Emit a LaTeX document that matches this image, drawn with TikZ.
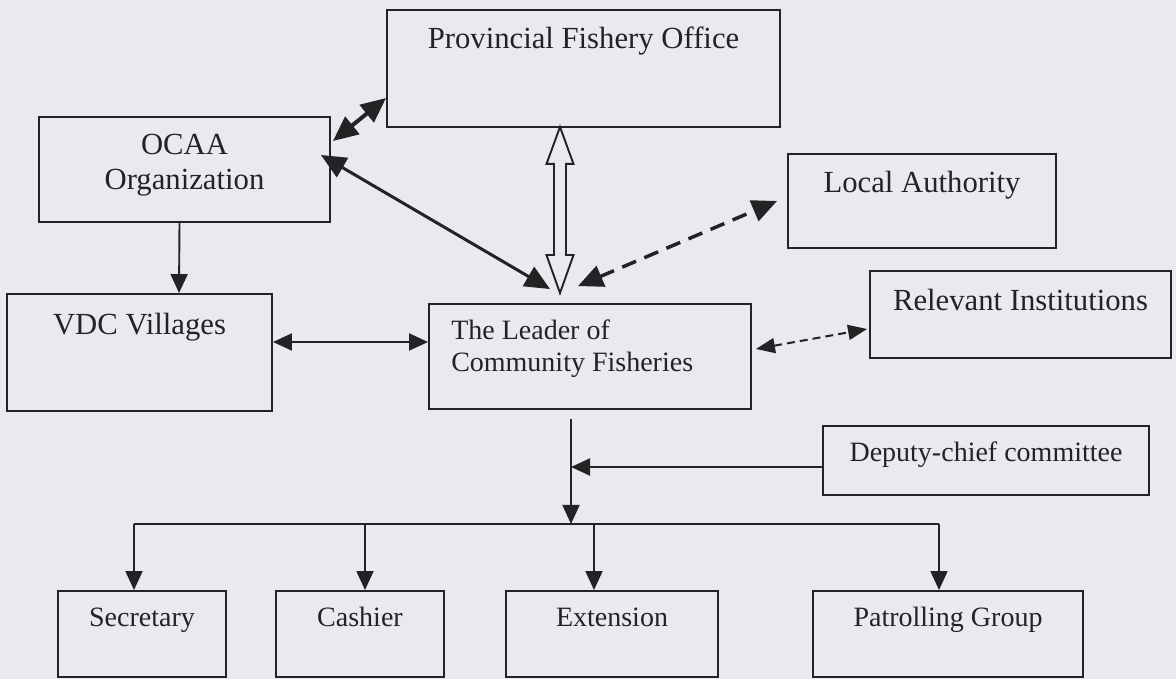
\documentclass[tikz,border=0pt]{standalone}
\usepackage{fontspec}
\setmainfont{Liberation Serif}
\usetikzlibrary{arrows.meta,calc}
\definecolor{bg}{RGB}{233,234,238}
\definecolor{ink}{RGB}{35,35,38}
\begin{document}
\begin{tikzpicture}[x=1pt,y=-1pt,
  box/.style={draw=ink, line width=1.9pt, inner sep=0pt},
  lbl/.style={text=ink, font=\fontsize{30.7}{34}\selectfont, anchor=base, inner sep=0pt},
  lbs/.style={lbl, font=\fontsize{28}{32}\selectfont},
  con/.style={draw=ink, line width=1.9pt},
  tip/.style={-{Triangle[length=19pt,width=17pt]}},
  tips/.style={{Triangle[length=19pt,width=17pt]}-{Triangle[length=19pt,width=17pt]}},
  bigtips/.style={{Triangle[length=25pt,width=22pt]}-{Triangle[length=25pt,width=22pt]}},
  smalltips/.style={{Triangle[length=19pt,width=15pt]}-{Triangle[length=19pt,width=15pt]}}
]
\fill[bg] (0,0) rectangle (1176,679);
\useasboundingbox (0,0) rectangle (1176,679);

% boxes
\node[box, minimum width=393pt, minimum height=117pt] (prov)   at (583.5,68.5) {};
\node[box, minimum width=291pt, minimum height=105pt] (ocaa)   at (184.5,169.5) {};
\node[box, minimum width=268pt, minimum height=94pt]  (local)  at (922,201) {};
\node[box, minimum width=301pt, minimum height=87pt]  (relev)  at (1020.5,314.5) {};
\node[box, minimum width=322pt, minimum height=105pt] (leader) at (590,356.5) {};
\node[box, minimum width=265pt, minimum height=117pt] (vdc)    at (139.5,352.5) {};
\node[box, minimum width=326pt, minimum height=69pt]  (deputy) at (986,460.5) {};
\node[box, minimum width=168pt, minimum height=86pt]  (secr)   at (142,634) {};
\node[box, minimum width=168pt, minimum height=86pt]  (cash)   at (360,634) {};
\node[box, minimum width=212pt, minimum height=86pt]  (ext)    at (612,634) {};
\node[box, minimum width=270pt, minimum height=86pt]  (patrol) at (948,634) {};

% labels
\node[lbl] at ([yshift=-39pt]prov.north) {Provincial Fishery Office};
\node[lbl] at ([yshift=-38pt]ocaa.north) {OCAA};
\node[lbl] at ([yshift=-73pt]ocaa.north) {Organization};
\node[lbl] at ([yshift=-39pt]local.north) {Local Authority};
\node[lbl] at ([yshift=-40pt]relev.north) {Relevant Institutions};
\node[lbl] at ([yshift=-41pt]vdc.north) {VDC Villages};
\node[lbs, anchor=base west] at ([xshift=23pt,yshift=-36pt]leader.north west) {The Leader of};
\node[lbs, anchor=base west] at ([xshift=23pt,yshift=-68pt]leader.north west) {Community Fisheries};
\node[lbs] at ([yshift=-36pt]deputy.north) {Deputy-chief committee};
\node[lbs] at ([yshift=-36pt]secr.north) {Secretary};
\node[lbs] at ([yshift=-36pt]cash.north) {Cashier};
\node[lbs] at ([yshift=-36pt]ext.north) {Extension};
\node[lbs] at ([yshift=-36pt]patrol.north) {Patrolling Group};

% OCAA <-> Provincial
\draw[con, line width=4pt, bigtips] ($(ocaa.north east)+(2,25)$) -- ($(prov.west)+(0,29.5)$);
% OCAA <-> Leader
\draw[con, line width=3pt, bigtips] ($(ocaa.east)+(-10,-14.5)$) -- ($(leader.north)+(-40,-14)$);
% Provincial <=> Leader (hollow double arrow)
\coordinate (ht) at ($(prov.south)+(-23.5,-1)$);
\coordinate (hb) at ($(leader.north)+(-30,-10)$);
\draw[ink, line width=1.9pt, fill=bg, line join=miter]
  (ht) -- ++(13.5,37) -- ++(-7.5,0) -- ($(hb)+(6,-38)$) -- ++(7.5,0) -- (hb)
  -- ++(-13.5,-38) -- ++(7.5,0) -- ($(ht)+(-6,37)$) -- ++(-7.5,0) -- cycle;
% Leader <-> Local Authority (dashed)
\draw[con, line width=3.5pt, dash pattern=on 15pt off 9pt, bigtips] ($(leader.north)+(-12,-17)$) -- ($(local.west)+(-10,0)$);
% Leader <-> Relevant Institutions (dashed)
\draw[con, line width=2pt, dash pattern=on 8pt off 5pt, smalltips] ($(leader.east)+(4,-7.5)$) -- ($(relev.west)+(-2,14.5)$);
% VDC <-> Leader
\draw[con, tips] ($(vdc.east)+(0,-10.5)$) -- ($(leader.west)+(0,-14.5)$);
% OCAA -> VDC
\draw[con, tip] ($(ocaa.south)+(-5,0)$) -- ($(vdc.north)+(39.5,0)$);
% Leader -> bus
\coordinate (bus) at ($(leader.south)+(-19,114)$);
\draw[con, tip] ($(leader.south)+(-19,9)$) -- (bus);
% Deputy -> trunk
\coordinate (dw) at ($(deputy.west)+(0,6.5)$);
\draw[con, tip] (dw) -- (dw -| bus);
% bus line and drops
\coordinate (sA) at ($(secr.north)+(-8,0)$);
\coordinate (cA) at ($(cash.north)+(5,0)$);
\coordinate (eA) at ($(ext.north)+(-18,0)$);
\coordinate (pA) at ($(patrol.north)+(-9,0)$);
\draw[con] (sA |- bus) -- (pA |- bus);
\draw[con, tip] (sA |- bus) -- (sA);
\draw[con, tip] (cA |- bus) -- (cA);
\draw[con, tip] (eA |- bus) -- (eA);
\draw[con, tip] (pA |- bus) -- (pA);
\end{tikzpicture}
\end{document}
